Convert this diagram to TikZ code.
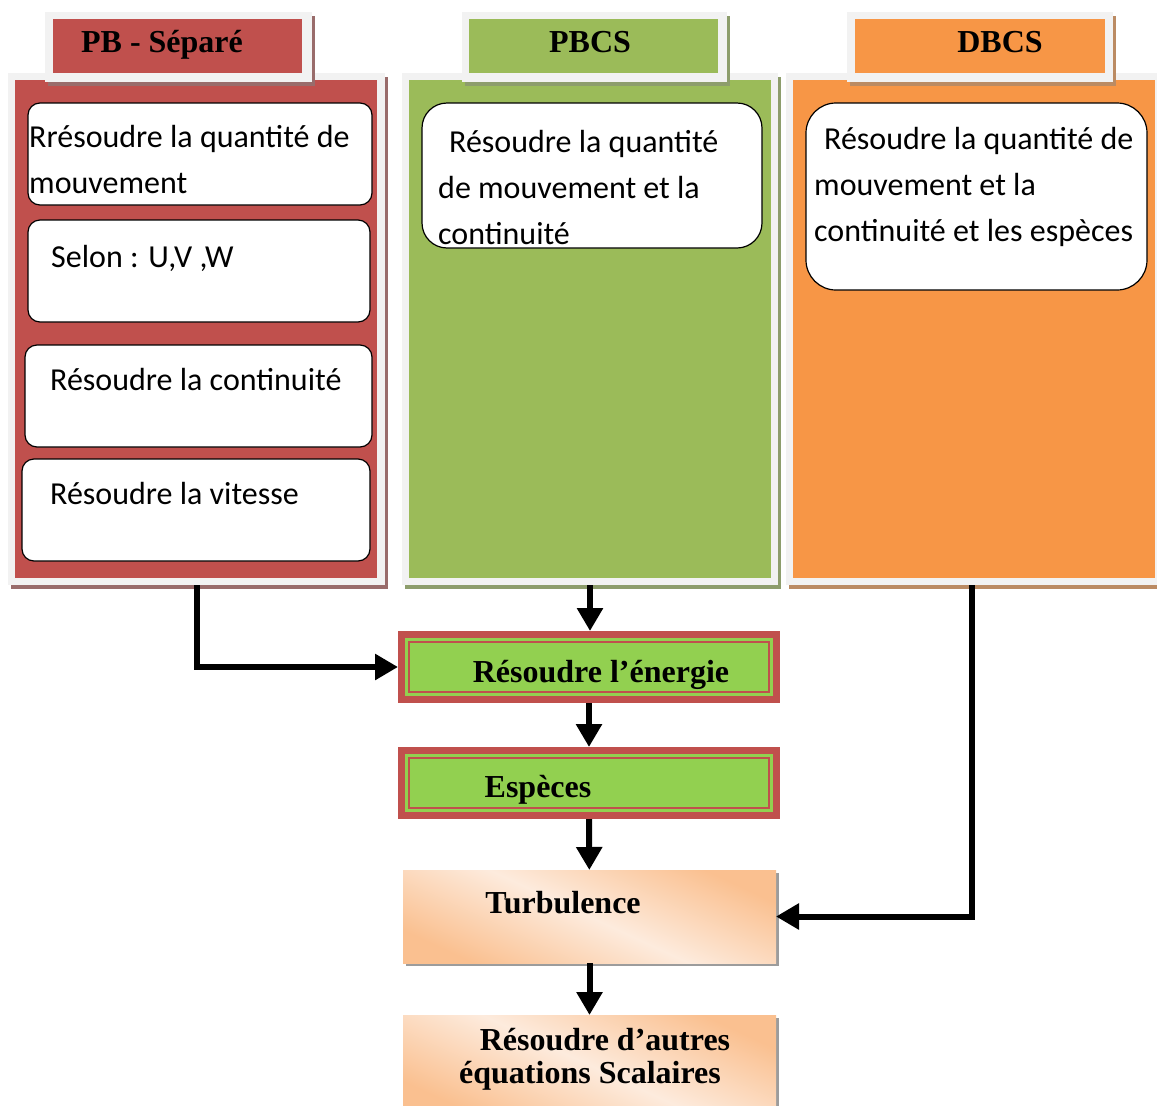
\documentclass[tikz,border=0pt]{standalone}
\usepackage{fontspec}
\setmainfont{Liberation Serif}
\newfontfamily\calib{Carlito}
\usetikzlibrary{arrows.meta,positioning,calc,shadows}
\definecolor{Red}{HTML}{C0504D}
\definecolor{Green}{HTML}{9BBB59}
\definecolor{Orange}{HTML}{F79646}
\definecolor{Lime}{HTML}{92D050}
\definecolor{Frame}{HTML}{F2F2F2}
\definecolor{Peach}{HTML}{FAC090}
\definecolor{PeachLt}{HTML}{FDEBDD}
\definecolor{Shade}{HTML}{9C9C9C}
\begin{document}
\begin{tikzpicture}[x=1pt,y=-1pt,
    sz/.style 2 args={minimum width=#1pt,minimum height=#2pt},
    box/.style={anchor=north west,inner sep=0pt,outer sep=0pt},
    frm/.style={box,fill=Frame,general shadow={fill=#1,shadow xshift=3pt,shadow yshift=-4pt}},
    wb/.style={box,fill=white,draw=black,line width=1.2pt,rounded corners=#1},
    inn/.style={anchor=center,inner sep=0pt,outer sep=0pt,fill=Lime,draw=Red,line width=2pt,preaction={draw=Lime,line width=8pt}},
    pch/.style={box,top color=Peach,bottom color=Peach,middle color=PeachLt,shading angle=-25,general shadow={fill=Shade,shadow xshift=3pt,shadow yshift=-3pt}},
    t/.style={font=\calib\fontsize{32}{46}\selectfont,inner sep=0pt,anchor=base west,align=left},
    h/.style={font=\bfseries\fontsize{32}{33}\selectfont,inner sep=0pt,anchor=base,align=center},
    a/.style={-{Triangle[length=23pt,width=25pt]},line width=6pt}]
    \useasboundingbox (0,0) rectangle (1157,1106);
    \node[frm=Red!40!gray,sz={377}{512}] (pbF) at (8,73) {};
    \node[box,fill=Red,sz={362}{498}] (pb) at (15,80) {};
    \node[frm=Red!40!gray,sz={267}{70}] (pbHF) at (45,12) {};
    \node[box,fill=Red,sz={249}{54}] (pbH) at (53,19) {};
    \node[h] (pbT) at (162,52) {PB - Séparé};
    \node[frm=Green!50!gray,sz={376}{512}] (pcF) at (402,73) {};
    \node[box,fill=Green,sz={362}{498}] (pc) at (409,80) {};
    \node[frm=Green!50!gray,sz={265}{70}] (pcHF) at (462,12) {};
    \node[box,fill=Green,sz={249}{54}] (pcH) at (469,19) {};
    \node[h] (pcT) at (590,52) {PBCS};
    \node[frm=Orange!50!gray,sz={371}{512}] (dbF) at (786,73) {};
    \node[box,fill=Orange,sz={362}{498}] (db) at (793,80) {};
    \node[frm=Orange!50!gray,sz={266}{70}] (dbHF) at (847,12) {};
    \node[box,fill=Orange,sz={250}{54}] (dbH) at (855,19) {};
    \node[h] (dbT) at (1000,52) {DBCS};
    \node[wb=12pt,sz={344}{102}] (b1) at (28,103) {};
    \node[t] (b1t) at (29,193) {Rrésoudre la quantité de\\mouvement};
    \node[wb=12pt,sz={342}{102}] (b2) at (28,220) {};
    \node[t] (b2t) at (51,267) {Selon : U,V ,W};
    \node[wb=12pt,sz={347}{102}] (b3) at (25,345) {};
    \node[t] (b3t) at (50,390) {Résoudre la continuité};
    \node[wb=12pt,sz={348}{102}] (b4) at (22,459) {};
    \node[t] (b4t) at (50,504) {Résoudre la vitesse};
    \node[wb=25pt,sz={340}{145}] (pcB) at (422,103) {};
    \node[t] (pcBt) at (438,244) {\hspace*{11pt}Résoudre la quantité\\de mouvement et la\\continuité};
    \node[wb=30pt,sz={341}{187}] (dbB) at (806,103) {};
    \node[t] (dbBt) at (814,241) {\hspace*{10pt}Résoudre la quantité de\\mouvement et la\\continuité et les espèces};
    \node[box,fill=Red,sz={382}{72}] (en) at (398,631) {};
    \node[inn,sz={360}{50}] (enI) at (en.center) {};
    \node[h] (enT) at (601,682) {Résoudre l’énergie};
    \node[box,fill=Red,sz={382}{72}] (es) at (398,747) {};
    \node[inn,sz={360}{50}] (esI) at (es.center) {};
    \node[h] (esT) at (538,797) {Espèces};
    \node[pch,sz={373}{93}] (tu) at (403,870) {};
    \node[h] (tuT) at (563,913) {Turbulence};
    \node[pch,sz={373}{100}] (au) at (403,1015) {};
    \node[h] (auT) at (590,1083) {\hspace*{30pt}Résoudre d’autres\\équations Scalaires};
    \draw[a] (pbF.south) |- (en.west);
    \draw[a] (pcF.south) -- (pcF.south |- en.north);
    \draw[a] (en) -- (es);
    \draw[a] (es) -- (tu);
    \draw[a] (tu) -- (au);
    \draw[a] (dbF.south) |- (tu.east);
\end{tikzpicture}
\end{document}
